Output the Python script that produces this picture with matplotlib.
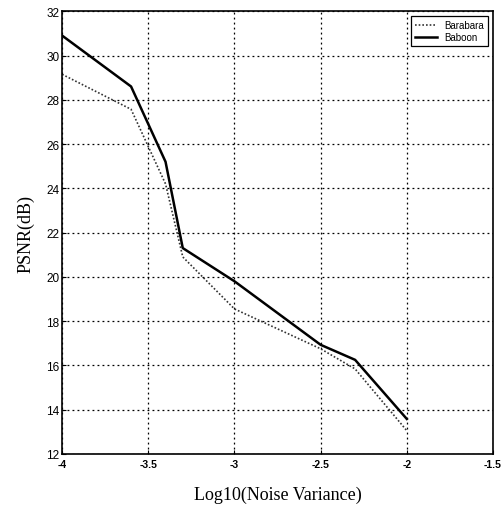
import matplotlib
matplotlib.use("Agg")
import matplotlib.pyplot as plt

x_barabara = [-4.0, -3.6, -3.4, -3.3, -3.0, -2.5, -2.3, -2.0]
y_barabara = [29.15, 27.57, 24.2, 20.9, 18.55, 16.75, 15.84, 13.05]
x_baboon = [-4.0, -3.6, -3.4, -3.3, -3.0, -2.5, -2.3, -2.0]
y_baboon = [30.9, 28.6, 25.2, 21.3, 19.8, 16.93, 16.25, 13.58]
xticks = [-4, -3.5, -3, -2.5, -2, -1.5]
xticklabels = ["-4", "-3.5", "-3", "-2.5", "-2", "-1.5"]
yticks = [12, 14, 16, 18, 20, 22, 24, 26, 28, 30, 32]

fig = plt.figure(figsize=(5.01, 5.10), dpi=100)
ax = fig.add_axes([0.124, 0.108, 0.86, 0.868])
ax.plot(x_barabara, y_barabara, color="#333333", linestyle=(0, (1, 1.2)), linewidth=1.2, label="Barabara")
ax.plot(x_baboon, y_baboon, color="black", linestyle="-", linewidth=1.8, label="Baboon")
ax.set_xlim(-4, -1.5)
ax.set_ylim(12, 32)
ax.set_xticks(xticks)
ax.set_xticklabels(xticklabels)
ax.set_yticks(yticks)
ax.tick_params(axis="x", direction="in", length=3, labelsize=7.5, pad=4)
ax.tick_params(axis="y", direction="in", length=3, labelsize=8.5, pad=2)
for lbl in ax.get_xticklabels():
    lbl.set_fontfamily("Liberation Sans")
    lbl.set_fontweight("bold")
for lbl in ax.get_yticklabels():
    lbl.set_fontfamily("Liberation Sans")
ax.grid(True, color="black", linestyle=(0, (1.5, 2.5)), linewidth=0.9)
for s in ax.spines.values():
    s.set_linewidth(1.2)
ax.set_xlabel("Log10(Noise Variance)", fontsize=13, family="Liberation Serif", labelpad=12)
ax.set_ylabel("PSNR(dB)", fontsize=13, family="Liberation Serif", labelpad=8)
leg = ax.legend(loc="upper right", prop={"family": "Liberation Sans", "size": 7},
                fancybox=False, framealpha=1, edgecolor="black", handlelength=2.2,
                borderpad=0.4, labelspacing=0.2, borderaxespad=0.5)
leg.get_frame().set_linewidth(0.9)
fig.savefig("out.png", dpi=100)
